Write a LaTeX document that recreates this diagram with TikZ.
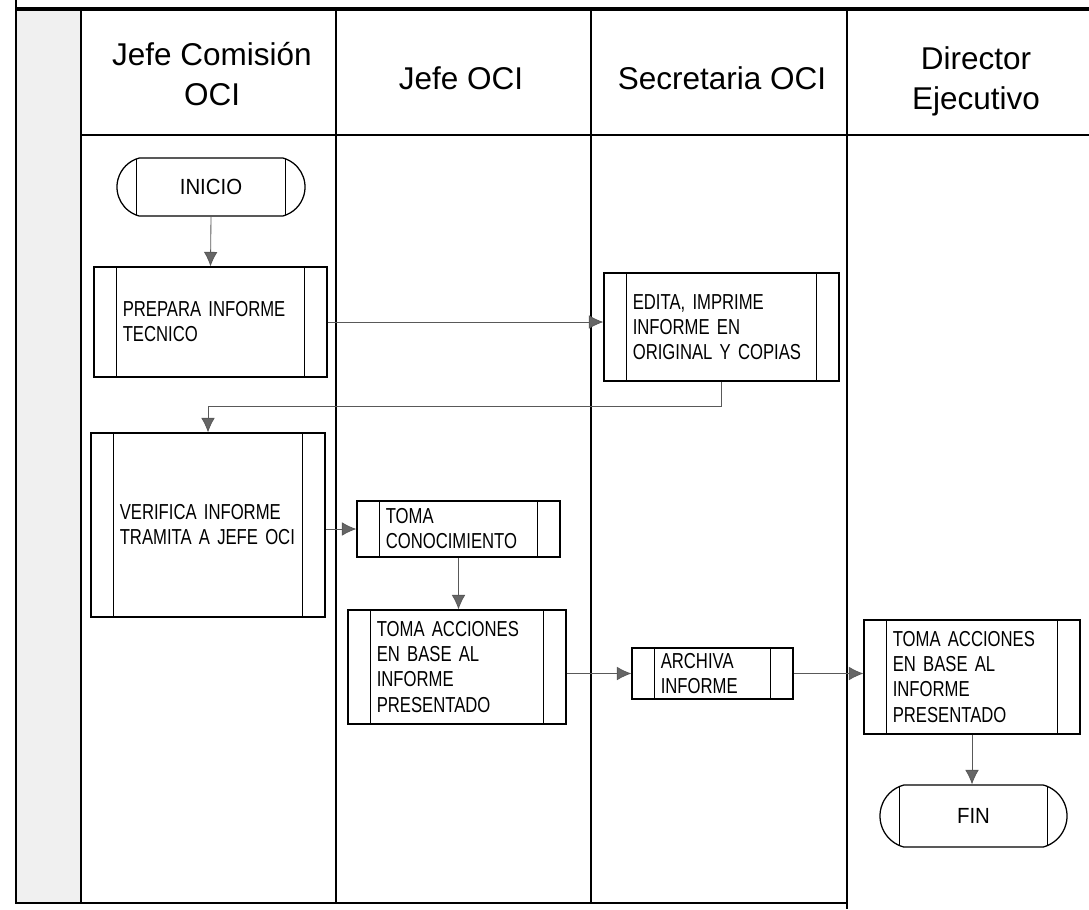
\documentclass[tikz,border=0pt]{standalone}
\usepackage{fontspec}
\setmainfont{Liberation Sans}
\newfontfamily\narrowsans[FakeStretch=0.77]{Liberation Sans}
\newfontfamily\termsans[FakeStretch=0.93]{Liberation Sans}
\usetikzlibrary{arrows.meta,shapes.misc}

\tikzset{
  bars/.style={path picture={
      \draw[line width=0.9pt] ([xshift=0.57cm]path picture bounding box.north west) -- ([xshift=0.57cm]path picture bounding box.south west);
      \draw[line width=0.9pt] ([xshift=-0.57cm]path picture bounding box.north east) -- ([xshift=-0.57cm]path picture bounding box.south east);}},
  proc/.style={draw, line width=0.9pt, bars, inner sep=0pt, align=left, font=\narrowsans\fontsize{15.4}{17.8}\selectfont},
  term/.style={draw, line width=0.9pt, rounded rectangle, rounded rectangle arc length=150, bars, inner sep=0pt, font=\termsans\fontsize{15.6}{17}\selectfont},
  lane/.style={align=center, font=\fontsize{22.4}{28.5}\selectfont},
  flow/.style={draw=black!65, line width=0.6pt, -{Latex[length=0.36cm,width=0.34cm,fill=black!60]}}
}

\begin{document}
\begin{tikzpicture}[x=0.025cm,y=-0.025cm]
	\useasboundingbox (0,0) rectangle (1089,909);
	\begin{scope}[line width=1.5pt]
      \fill[black!6] (16,9) rectangle (81,903);
      \draw[line width=2.4pt] (16,9) -- (1089,9);
      \draw (16,0) -- (16,903) -- (847,903);
      \foreach \x in {81,336,591} \draw (\x,9) -- (\x,903);
      \draw (847,9) -- (847,909);
      \draw[line width=1.2pt] (81,135) -- (1089,135);
	\end{scope}

      \node[lane] (hcom) at (212,74) {Jefe Comisión\\OCI};
      \node[lane] (hjefe) at (461,78) {Jefe OCI};
      \node[lane] (hsec) at (722,78) {Secretaria OCI};
      \node[lane] (hdir) at (976,81) {Director\\Ejecutivo};

      \node[term, minimum width=4.7cm, minimum height=1.45cm] (inicio) at (211,187) {INICIO};
      \node[proc, minimum width=5.825cm, minimum height=2.75cm, text width=4.385cm] (prepara) at (210.5,322) {PREPARA~INFORME\\TECNICO};
      \node[proc, minimum width=5.875cm, minimum height=2.7cm, text width=4.435cm] (edita) at (721.5,327) {EDITA,~IMPRIME\\INFORME~EN\\ORIGINAL~Y~COPIAS};
      \node[proc, minimum width=5.85cm, minimum height=4.6cm, text width=4.41cm] (verifica) at (208,525) {VERIFICA~INFORME\\TRAMITA~A~JEFE~OCI};
      \node[proc, minimum width=5.075cm, minimum height=1.4cm, text width=3.635cm] (conoce) at (458.5,529) {TOMA\\CONOCIMIENTO};
      \node[proc, minimum width=5.45cm, minimum height=2.85cm, text width=4.01cm] (accjefe) at (457,667) {TOMA~ACCIONES\\EN~BASE~AL\\INFORME\\PRESENTADO};
      \node[proc, minimum width=4.025cm, minimum height=1.275cm, text width=2.585cm] (archiva) at (712.5,673.5) {ARCHIVA\\INFORME};
      \node[proc, minimum width=5.4cm, minimum height=2.85cm, text width=3.96cm] (accdir) at (972,677) {TOMA~ACCIONES\\EN~BASE~AL\\INFORME\\PRESENTADO};
      \node[term, minimum width=4.675cm, minimum height=1.55cm] (fin) at (973.5,816) {FIN};

      \draw[flow] (inicio.south) -- (prepara.north);
      \draw[flow] (prepara.east) -- (prepara.east -| edita.west);
      \draw[flow] (edita.south) -- ++(0,25) -| (verifica.north);
      \draw[flow] (verifica.east |- conoce) -- (conoce.west);
      \draw[flow] (conoce.south) -- (conoce.south |- accjefe.north);
      \draw[flow] (accjefe.east |- archiva) -- (archiva.west);
      \draw[flow] (archiva.east) -- (archiva.east -| accdir.west);
      \draw[flow] (accdir.south) -- (accdir.south |- fin.north);
\end{tikzpicture}
\end{document}
